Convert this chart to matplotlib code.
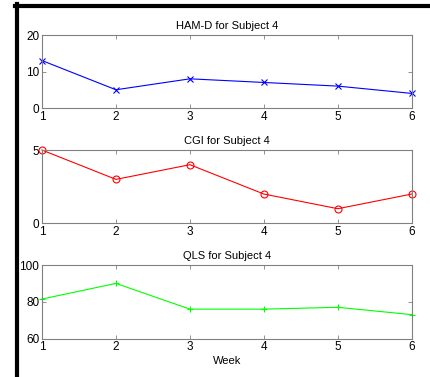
import numpy as np
import matplotlib.pyplot as plt
from matplotlib.lines import Line2D

plt.rcParams['font.family'] = 'Liberation Sans'
plt.rcParams['font.size'] = 8

# data
weeks = [1, 2, 3, 4, 5, 6]
hamd = [13, 5, 8, 7, 6, 4]
cgi = [5, 3, 4, 2, 1, 2]
qls = [81.5, 90, 76, 76, 77, 73]

panels = [
    ('HAM-D for Subject 4', hamd, 'blue', 'x', (0, 20), [0, 10, 20]),
    ('CGI for Subject 4', cgi, 'red', 'o', (0, 5), [0, 5]),
    ('QLS for Subject 4', qls, '#00ff00', '+', (60, 100), [60, 80, 100]),
]
# axes boxes in figure fractions [left, bottom, width, height]
boxes = [
    [0.0977, 0.7135, 0.860, 0.1936],
    [0.0977, 0.4075, 0.860, 0.1945],
    [0.0977, 0.1020, 0.860, 0.1950],
]

fig = plt.figure(figsize=(4.3, 3.77), dpi=100)

for (title, vals, col, mk, ylim, yt), box in zip(panels, boxes):
    ax = fig.add_axes(box)
    ax.plot(weeks, vals, color=col, lw=0.8, marker=mk, markersize=5,
            markerfacecolor='none', markeredgewidth=0.8, clip_on=False)
    ax.set_xlim(1, 6)
    ax.set_ylim(*ylim)
    ax.set_xticks(weeks)
    ax.set_yticks(yt)
    ax.set_title(title, fontsize=8, pad=4)
    for s in ax.spines.values():
        s.set_color('#808080')
        s.set_linewidth(0.8)
    ax.tick_params(direction='in', length=3, width=0.6, color='#808080',
                   top=True, right=True, pad=2, labelsize=8.5)

fig.axes[-1].set_xlabel('Week', fontsize=8, labelpad=2)

# black frame lines at top and left (screen-capture border)
fig.add_artist(Line2D([15 / 430, 1], [1 - 6 / 377, 1 - 6 / 377],
                      color='black', lw=3, transform=fig.transFigure))
fig.add_artist(Line2D([17 / 430, 17 / 430], [0, 1 - 4 / 377],
                      color='black', lw=3, transform=fig.transFigure))

fig.savefig('out.png', dpi=100)
